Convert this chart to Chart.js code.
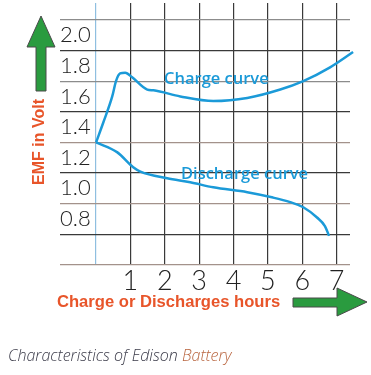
<!DOCTYPE html>
<html>
<head>
<meta charset="utf-8">
<script src="https://cdn.jsdelivr.net/npm/chart.js@4.4.1/dist/chart.umd.min.js"></script>
<style>
  html, body { margin: 0; padding: 0; background: #fff; }
</style>
</head>
<body>
<canvas id="myChart" width="371" height="375"></canvas>
<script>
// values
const chargeHours = [0, 0.21, 0.47, 0.58, 0.70, 0.85, 1.05, 1.49, 1.67, 2.45, 3.41, 4.40, 5.36, 6.03, 6.81, 7.48];
const chargeVolts = [1.30, 1.43, 1.60, 1.70, 1.75, 1.755, 1.725, 1.645, 1.64, 1.60, 1.57, 1.59, 1.645, 1.70, 1.79, 1.89];
const dischargeHours = [0, 0.62, 1.08, 1.29, 2.07, 2.74, 3.41, 4.40, 5.15, 5.65, 6.03, 6.43, 6.66, 6.78];
const dischargeVolts = [1.30, 1.235, 1.138, 1.11, 1.066, 1.04, 1.007, 0.975, 0.94, 0.91, 0.877, 0.81, 0.754, 0.69];
const hourTicks = [0, 1, 2, 3, 4, 5, 6, 7];
const voltLabels = ['0.8', '1.0', '1.2', '1.4', '1.6', '1.8', '2.0'];
const voltGrid = [0.5, 0.7, 0.9, 1.1, 1.3, 1.5, 1.7, 1.9, 2.1];

const blue = '#1b9ad8';
const orange = '#e8552a';
const green = '#2a9b3f';
const digitFont = 'Lato, "DejaVu Sans", sans-serif';

function toPoints(xs, ys) {
  return xs.map((x, i) => ({x: x, y: ys[i]}));
}

function gridColour(v) {
  const s = v.toFixed(1);
  if (voltLabels.includes(s)) return 'rgba(0,0,0,0)';
  if (s === '0.5' || s === '0.9' || s === '1.3') return '#a3928b';
  if (s === '1.7' || s === '2.1') return '#8c8c8c';
  return '#3a3a3a';
}

function noPad(s) {
  s.paddingTop = 0; s.paddingBottom = 0; s.paddingLeft = 0; s.paddingRight = 0;
}

function arrow(ctx, pts) {
  ctx.beginPath();
  ctx.moveTo(pts[0][0], pts[0][1]);
  for (let i = 1; i < pts.length; i++) ctx.lineTo(pts[i][0], pts[i][1]);
  ctx.closePath();
  ctx.fillStyle = green;
  ctx.fill();
  ctx.strokeStyle = '#4a4a4a';
  ctx.lineWidth = 1;
  ctx.stroke();
}

const extras = {
  id: 'extras',
  afterDraw(chart) {
    const ctx = chart.ctx;
    const xs = chart.scales.x, ys = chart.scales.y;
    ctx.save();

    // curve names
    ctx.fillStyle = blue;
    ctx.font = '600 16.5px "Open Sans", Arial, sans-serif';
    ctx.textAlign = 'center';
    ctx.textBaseline = 'middle';
    ctx.fillText('Charge curve', xs.getPixelForValue(3.5), ys.getPixelForValue(1.71));
    ctx.fillText('Discharge curve', xs.getPixelForValue(4.32), ys.getPixelForValue(1.09));

    // arrows
    arrow(ctx, [[41, 16], [55, 47], [46, 47], [46, 91], [36, 91], [36, 47], [27, 47]]);
    arrow(ctx, [[367, 302], [337, 316], [337, 307], [293, 307], [293, 298], [337, 298], [337, 288]]);

    // axis titles
    ctx.fillStyle = orange;
    ctx.font = 'bold 16.6px "Liberation Sans", Arial, sans-serif';
    ctx.textAlign = 'left';
    ctx.fillText('Charge or Discharges hours', 57, 302);
    ctx.save();
    ctx.translate(40, 142);
    ctx.rotate(-Math.PI / 2);
    ctx.textAlign = 'center';
    ctx.font = 'bold 16px "Liberation Sans", Arial, sans-serif';
    ctx.fillText('EMF in Volt', 0, 0);
    ctx.restore();

    // caption
    ctx.font = 'italic 300 16px "Open Sans", sans-serif';
    ctx.textAlign = 'left';
    ctx.fillStyle = '#3a3a48';
    const cap = 'Characteristics of Edison ';
    ctx.fillText(cap, 8, 356);
    ctx.fillStyle = '#b8643e';
    ctx.fillText('Battery', 8 + ctx.measureText(cap).width, 356);

    ctx.restore();
  }
};

new Chart(document.getElementById('myChart'), {
  type: 'line',
  data: {
    datasets: [
      {
        label: 'Charge curve',
        data: toPoints(chargeHours, chargeVolts),
        borderColor: blue,
        borderWidth: 2.5,
        pointRadius: 0,
        cubicInterpolationMode: 'monotone',
        fill: false,
        clip: false
      },
      {
        label: 'Discharge curve',
        data: toPoints(dischargeHours, dischargeVolts),
        borderColor: blue,
        borderWidth: 2.5,
        pointRadius: 0,
        cubicInterpolationMode: 'monotone',
        fill: false,
        clip: false
      }
    ]
  },
  options: {
    responsive: false,
    animation: false,
    layout: {padding: {left: 0, top: 3, right: 21, bottom: 0}},
    plugins: {legend: {display: false}, tooltip: {enabled: false}},
    scales: {
      x: {
        type: 'linear',
        min: -1.05,
        max: 7.39,
        afterBuildTicks: s => { s.ticks = hourTicks.map(v => ({value: v})); },
        afterFit: s => { s.height = 110; noPad(s); },
        border: {display: false},
        grid: {
          drawTicks: false,
          lineWidth: 1.2,
          color: c => (c.tick && c.tick.value === 0) ? '#8fbfe0' : '#3a3a3a'
        },
        ticks: {
          autoSkip: false,
          maxRotation: 0,
          padding: 0,
          color: '#222',
          font: {family: digitFont, size: 27, weight: 300},
          callback: v => v === 0 ? '' : String(v)
        }
      },
      y: {
        min: 0.5,
        max: 2.21,
        afterBuildTicks: s => {
          const vals = voltGrid.concat(voltLabels.map(Number)).sort((a, b) => a - b);
          s.ticks = vals.map(v => ({value: v}));
        },
        afterFit: s => { s.width = 60; noPad(s); },
        border: {display: false},
        grid: {
          drawTicks: false,
          lineWidth: 1.2,
          color: c => gridColour(c.tick.value)
        },
        ticks: {
          autoSkip: false,
          mirror: true,
          padding: 0,
          color: '#222',
          font: {family: digitFont, size: 22, weight: 300},
          callback: v => {
            const s = Number(v).toFixed(1);
            return voltLabels.includes(s) ? s : '';
          }
        }
      }
    }
  },
  plugins: [extras]
});
</script>
</body>
</html>
